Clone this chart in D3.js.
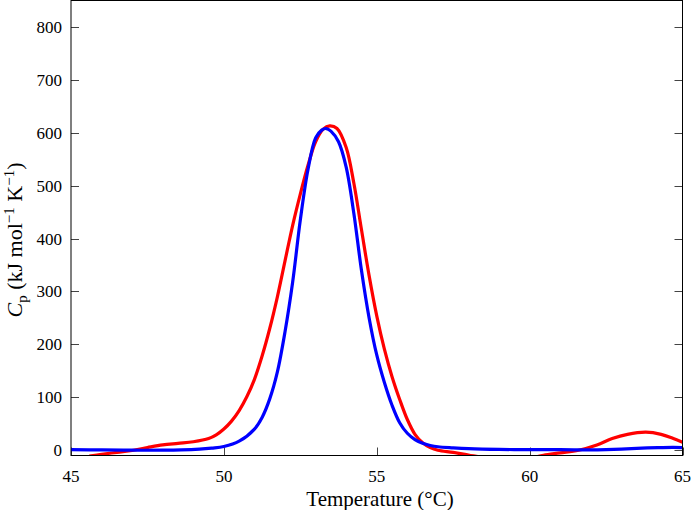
<!DOCTYPE html>
<html>
<head>
    <meta charset="utf-8">
    <title>Cp vs Temperature</title>
    <script type="text/javascript" src="https://cdn.jsdelivr.net/npm/d3@7/dist/d3.min.js"></script>
    <style type="text/css">
        html, body {
            margin: 0;
            background: #fff;
        }
        svg {
            display: block;
        }
        text {
            font-family: "Liberation Serif", "Times New Roman", serif;
            fill: #000;
        }
        .curve {
            fill: none;
            stroke-width: 3.2px;
        }
    </style>
</head>
<body>
<script type="text/javascript">
    // red trace
    var redT = [45.6, 46.0, 46.5, 47.0, 47.5, 48.0, 48.5, 49.0, 49.5, 49.75, 50.0, 50.25, 50.5,
        50.75, 51.0, 51.25, 51.5, 51.75, 52.0, 52.25, 52.5, 52.75, 53.0, 53.25, 53.46, 53.7,
        54.0, 54.25, 54.5, 54.75, 55.0, 55.25, 55.5, 55.75, 56.0, 56.25, 56.5, 56.75, 57.0,
        57.5, 58.0, 58.5, 59.2, 60.0, 60.45, 61.0, 61.6, 62.2, 62.7, 63.2, 63.8, 64.3, 64.7, 65.0];
    var redCp = [-11, -8, -4, -0.5, 5, 10, 13, 16, 22, 29, 40, 55, 75,
        101, 134, 178, 230, 290, 358, 425, 484, 538, 583, 607, 613, 608,
        572, 505, 417, 330, 254, 191, 139, 96, 58, 30, 14, 5, 0,
        -4, -9, -14, -18, -15, -9.5, -5, 0, 10, 22, 30, 34, 30, 22, 15];

    // blue trace
    var blueT = [45.0, 46.0, 47.0, 48.0, 48.6, 49.2, 49.6, 50.0, 50.5, 51.0, 51.25, 51.5, 51.75,
        52.0, 52.25, 52.5, 52.75, 53.0, 53.2, 53.35, 53.5, 53.75, 54.0, 54.25, 54.5, 54.75,
        55.0, 55.25, 55.5, 55.75, 56.0, 56.25, 56.5, 56.75, 57.0, 57.5, 58.0, 59.0,
        60.0, 61.0, 62.0, 62.5, 63.0, 63.5, 64.2, 64.7, 65.0];
    var blueCp = [1, 0.5, 0, 0, 0.5, 2, 4, 7, 17, 40, 62, 97, 148,
        224, 318, 435, 530, 590, 605, 608, 603, 583, 535, 448, 340, 250,
        180, 128, 85, 52, 32, 20, 13, 9, 6.5, 4.5, 3, 1.5,
        1, 1, 0.5, 1, 2, 3.5, 5, 5.5, 5];

    var xTicks = [45, 50, 55, 60, 65];
    var yTicks = [0, 100, 200, 300, 400, 500, 600, 700, 800];

    var width = 692, height = 510;
    var pLeft = 71, pRight = 682.5, pTop = 0.5, pBottom = 455.5;

    var svg = d3.select("body").append("svg")
        .attr("width", width)
        .attr("height", height);

    var x = d3.scaleLinear().domain([45, 65]).range([pLeft, pRight]);
    var y = d3.scaleLinear().domain([-10, 850]).range([pBottom, pTop]);

    svg.append("clipPath").attr("id", "plot")
        .append("rect")
        .attr("x", pLeft).attr("y", pTop)
        .attr("width", pRight - pLeft).attr("height", pBottom - pTop);

    // ticks (inward)
    var tickLen = 8;
    var ticks = svg.append("g").attr("stroke", "#444").attr("stroke-width", 1);
    yTicks.forEach(function (v) {
        var yy = Math.round(y(v)) + 0.5;
        ticks.append("line").attr("x1", pLeft).attr("x2", pLeft + tickLen).attr("y1", yy).attr("y2", yy);
        ticks.append("line").attr("x1", pRight - tickLen).attr("x2", pRight).attr("y1", yy).attr("y2", yy);
    });
    xTicks.forEach(function (v) {
        var xx = Math.round(x(v)) + 0.5;
        ticks.append("line").attr("x1", xx).attr("x2", xx).attr("y1", pBottom).attr("y2", pBottom - tickLen);
    });

    // tick labels
    svg.append("g").selectAll("text").data(yTicks).enter().append("text")
        .attr("x", 62)
        .attr("y", function (d) { return y(d); })
        .attr("dy", "0.35em")
        .attr("text-anchor", "end")
        .style("font-size", "17px")
        .text(function (d) { return d; });

    svg.append("g").selectAll("text").data(xTicks).enter().append("text")
        .attr("x", function (d) { return x(d); })
        .attr("y", 482)
        .attr("text-anchor", "middle")
        .style("font-size", "17px")
        .text(function (d) { return d; });

    // curves
    var line = d3.line()
        .x(function (d) { return x(d[0]); })
        .y(function (d) { return y(d[1]); })
        .curve(d3.curveCatmullRom.alpha(0.5));

    var curves = svg.append("g").attr("clip-path", "url(#plot)");
    curves.append("path")
        .attr("class", "curve")
        .attr("stroke", "#ff0000")
        .attr("d", line(d3.zip(redT, redCp)));
    curves.append("path")
        .attr("class", "curve")
        .attr("stroke", "#0000ff")
        .attr("d", line(d3.zip(blueT, blueCp)));

    // frame
    svg.append("rect")
        .attr("x", pLeft).attr("y", pTop)
        .attr("width", pRight - pLeft).attr("height", pBottom - pTop)
        .attr("fill", "none")
        .attr("stroke", "#000")
        .attr("stroke-width", 1);

    // axis titles
    svg.append("text")
        .attr("x", 380)
        .attr("y", 506)
        .attr("text-anchor", "middle")
        .style("font-size", "21px")
        .text("Temperature (°C)");

    var yt = svg.append("text")
        .attr("transform", "translate(22,240) rotate(-90)")
        .attr("text-anchor", "middle")
        .style("font-size", "22px");
    yt.append("tspan").style("font-style", "italic").text("C");
    yt.append("tspan").attr("dy", 5).style("font-size", "15px").text("p");
    yt.append("tspan").attr("dy", -5).text(" (kJ mol");
    yt.append("tspan").attr("dy", -8).style("font-size", "15px").text("−1");
    yt.append("tspan").attr("dy", 8).text(" K");
    yt.append("tspan").attr("dy", -8).style("font-size", "15px").text("−1");
    yt.append("tspan").attr("dy", 8).text(")");
</script>
</body>
</html>
